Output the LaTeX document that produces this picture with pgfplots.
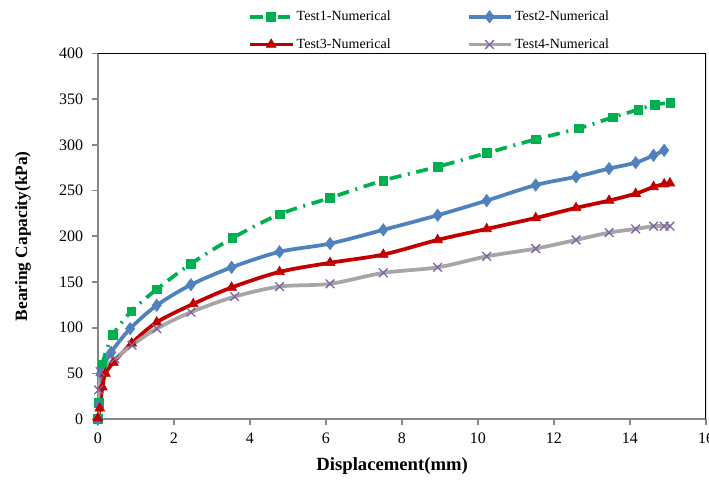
\documentclass[border=0pt]{standalone}
\usepackage{fontspec}
\setmainfont{Liberation Serif}
\usepackage{pgfplots}
\pgfplotsset{compat=1.18}
\definecolor{tgreen}{RGB}{0,176,80}
\definecolor{tblue}{RGB}{79,129,189}
\definecolor{tred}{RGB}{192,0,0}
\definecolor{tgray}{RGB}{166,166,166}
\definecolor{tpurple}{RGB}{128,100,162}
\definecolor{axgray}{RGB}{134,134,134}
\begin{document}
\begin{tikzpicture}
\begin{axis}[
  scale only axis, width=456pt, height=274.3pt,
  xmin=0, xmax=16, ymin=0, ymax=400,
  xtick={0,2,...,16}, ytick={0,50,...,400},
  axis x line*=bottom, axis y line*=left,
  axis line style={draw=axgray, line width=1.5pt},
  every tick/.style={draw=axgray, line width=1.2pt},
  tick align=outside, major tick length=4.5pt,
  tick label style={font=\fontsize{12}{14}\selectfont},
  yticklabel style={xshift=-3pt},
  xticklabel style={yshift=-2pt},
  /pgf/number format/assume math mode=true,
  xlabel={\fontsize{14}{16}\selectfont\bfseries Displacement(mm)},
  ylabel={\fontsize{13}{15}\selectfont\bfseries Bearing Capacity(kPa)},
  xlabel style={at={(axis description cs:0.484,-0.128)}, anchor=center},
  ylabel style={at={(axis description cs:-0.123,0.5)}, anchor=center},
  legend style={at={(axis description cs:0.247,1)}, anchor=south west,
    draw=none, fill=none, inner sep=0pt, legend columns=2, row sep=8pt,
    font=\fontsize{10.5}{12}\selectfont,
    /tikz/every even column/.append style={column sep=55pt}},
  legend cell align=left,
  legend image code/.code={\draw[mark repeat=2,mark phase=2,#1] plot coordinates {(0pt,0pt)(15.75pt,0pt)(31.5pt,0pt)};},
]
\addplot[tgreen, line width=2.8pt, dash pattern=on 9pt off 5pt on 1.5pt off 5pt,
  smooth, tension=0.5, mark=square*, mark size=3.3pt, mark options={solid, line width=0.5pt}]
  coordinates {(0,0) (0.03,18) (0.12,60) (0.4,92) (0.88,118) (1.55,142) (2.45,170)
  (3.54,198) (4.78,224) (6.11,242) (7.51,261) (8.94,276) (10.23,291) (11.52,306)
  (12.66,318) (13.54,330) (14.22,338.5) (14.66,344) (15.06,346)};
\addplot[tblue, line width=2.8pt, smooth, tension=0.5, mark=diamond*, mark size=4.6pt,
  mark options={solid, line width=0.5pt}]
  coordinates {(0,0) (0.03,15) (0.08,50) (0.35,73) (0.85,99) (1.55,124.5) (2.45,147)
  (3.52,166) (4.78,183) (6.11,192) (7.51,207) (8.94,223) (10.23,239) (11.52,256)
  (12.58,265) (13.45,274) (14.15,280.5) (14.62,288.5) (14.9,294)};
\addplot[tred, line width=2.8pt, smooth, tension=0.5, mark=triangle*, mark size=4.2pt,
  mark options={solid, line width=0.5pt}]
  coordinates {(0,1) (0.05,12) (0.12,35) (0.2,50) (0.41,62) (0.89,83) (1.55,106)
  (2.51,126) (3.52,144) (4.78,161) (6.11,171) (7.51,180) (8.94,196) (10.23,208)
  (11.52,220) (12.58,231) (13.45,239) (14.15,246.6) (14.62,254) (14.9,257) (15.05,258)};
\addplot[tgray, line width=2.8pt, smooth, tension=0.5, mark=x, mark size=4.6pt, mark phase=2,
  mark options={tpurple, solid, line width=1pt}]
  coordinates {(0,0) (0.02,32) (0.06,52) (0.45,66) (0.9,81) (1.55,99) (2.45,117)
  (3.6,134) (4.78,145) (6.11,148) (7.51,160) (8.94,166) (10.23,178) (11.52,186.5)
  (12.58,196) (13.45,204) (14.15,208) (14.62,211) (14.9,211) (15.05,211)};
\legend{Test1-Numerical, Test2-Numerical, Test3-Numerical, Test4-Numerical}
\draw[black, line width=1.1pt] (rel axis cs:0,1) -- (rel axis cs:1,1) -- (rel axis cs:1,0);
\coordinate (bl) at (rel axis cs:0,0);
\coordinate (tr) at (rel axis cs:1,1);
\end{axis}
\pgfresetboundingbox
\path[use as bounding box] ([xshift=-73.35pt,yshift=-45.75pt]bl) rectangle ([xshift=2.25pt,yshift=40pt]tr);
\end{tikzpicture}
\end{document}
